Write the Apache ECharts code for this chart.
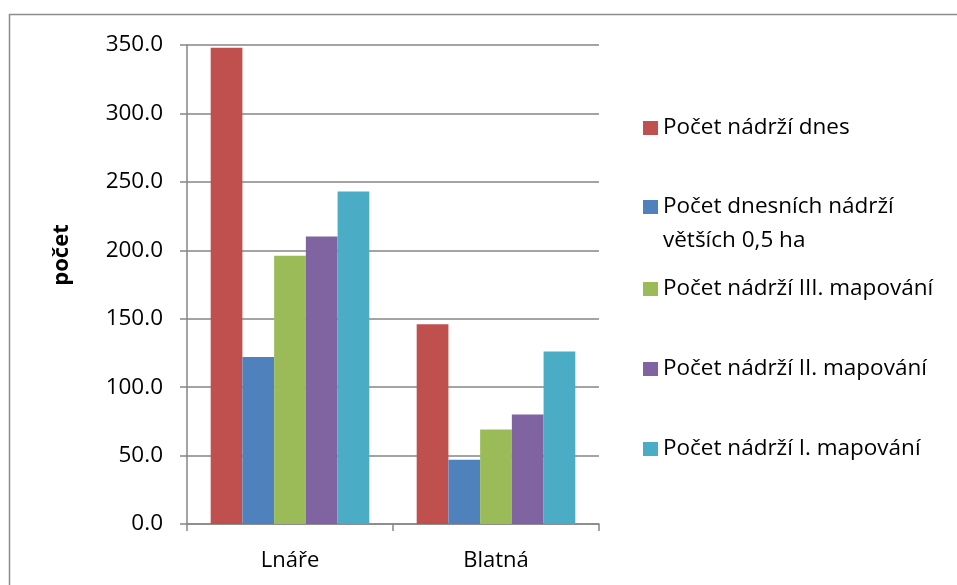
<!DOCTYPE html>
<html>
<head>
<meta charset="utf-8">
<script src="https://cdn.jsdelivr.net/npm/echarts@6/dist/echarts.min.js"></script>
<style>
  html, body { margin: 0; padding: 0; background: #fff; }
  #chart { width: 957px; height: 585px; }
</style>
</head>
<body>
<div id="chart"></div>
<script>
// data
const categories = ['Lnáře', 'Blatná']
const seriesNames = [
  'Počet nádrží dnes',
  'Počet dnesních nádrží větších 0,5 ha',
  'Počet nádrží III. mapování',
  'Počet nádrží II. mapování',
  'Počet nádrží I. mapování',
]
const dnes = [348, 146]
const vetsi05 = [122, 47]
const mapovani3 = [196, 69]
const mapovani2 = [210, 80]
const mapovani1 = [243, 126]
const yTicks = [0, 50, 100, 150, 200, 250, 300, 350]

const colors = ['#C0504D', '#4F81BD', '#9BBB59', '#8064A2', '#4BACC6']
const values = [dnes, vetsi05, mapovani3, mapovani2, mapovani1]
const legendCenters = [128, 207, 289, 369, 449]
const lineH = 34

const font = '"Open Sans", "Noto Sans", sans-serif'
const chart = echarts.init(document.getElementById('chart'))

// one legend per item, so each row sits where the original puts it
const legends = seriesNames.map((name, i) => {
  const twoLines = i === 1
  return {
    left: 643,
    // the wrapped item gets an empty first line so the swatch lines up with its first row
    top: twoLines ? legendCenters[i] - lineH * 1.5 : legendCenters[i] - lineH / 2,
    padding: 0,
    orient: 'vertical',
    itemWidth: 15,
    itemHeight: 14,
    itemGap: 7,
    icon: 'rect',
    data: [{ name: name, itemStyle: { color: colors[i] } }],
    formatter: twoLines ? () => ' \nPočet dnesních nádrží\nvětších 0,5 ha' : undefined,
    textStyle: {
      fontFamily: font,
      fontSize: 22.5,
      color: '#000',
      lineHeight: lineH,
    },
    selectedMode: false,
  }
})

const option = {
  backgroundColor: '#fff',
  animation: false,
  graphic: [
    {
      type: 'rect',
      shape: { x: 9.5, y: 14.5, width: 1000, height: 1000 },
      style: { fill: 'none', stroke: '#8c8c8c', lineWidth: 1.5 },
      silent: true,
    },
    {
      type: 'text',
      x: 62,
      y: 255,
      rotation: Math.PI / 2,
      style: {
        text: 'počet',
        fontFamily: font,
        fontWeight: 'bold',
        fontSize: 22,
        fill: '#000',
        align: 'center',
        verticalAlign: 'middle',
      },
    },
  ],
  legend: legends,
  grid: {
    left: 187,
    right: 957 - 599,
    top: 45,
    bottom: 585 - 524,
    containLabel: false,
  },
  xAxis: {
    type: 'category',
    data: categories,
    axisLine: { lineStyle: { color: '#868686', width: 1.5 } },
    axisTick: { show: true, length: 7, lineStyle: { color: '#868686', width: 1.5 } },
    axisLabel: {
      fontFamily: font,
      fontSize: 22,
      color: '#000',
      margin: 26,
    },
  },
  yAxis: {
    type: 'value',
    min: yTicks[0],
    max: yTicks[yTicks.length - 1],
    interval: 50,
    axisLine: { show: true, lineStyle: { color: '#868686', width: 1.5 } },
    axisTick: { show: true, length: 7, lineStyle: { color: '#868686', width: 1.5 } },
    splitLine: { lineStyle: { color: '#868686', width: 1.5 } },
    axisLabel: {
      fontFamily: font,
      fontSize: 22.5,
      color: '#000',
      margin: 24,
      formatter: (v) => v.toFixed(1),
    },
  },
  series: seriesNames.map((name, i) => ({
    name: name,
    type: 'bar',
    data: values[i],
    barGap: '0%',
    barCategoryGap: '23%',
    itemStyle: { color: colors[i] },
  })),
}

chart.setOption(option)
</script>
</body>
</html>
